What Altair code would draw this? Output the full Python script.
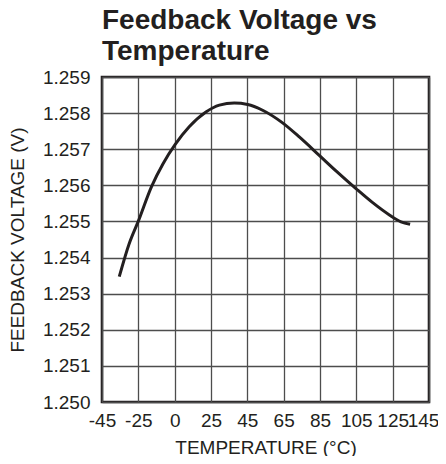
import altair as alt
import pandas as pd

# Curve (temperature in °C, feedback voltage in V)
temps = [-35.5, -30, -25, -16, -8, 0.5, 10, 21.5, 29.6, 37.8, 45.2, 53.4, 64.4,
         73.6, 84.6, 93.8, 104.8, 114, 123.2, 129.6, 134.6]
volts = [1.25347, 1.25439, 1.25501, 1.25596, 1.25660, 1.25714, 1.25762, 1.25803,
         1.25822, 1.25828, 1.25824, 1.25808, 1.25773, 1.25734, 1.25683, 1.25640,
         1.25591, 1.25552, 1.25518, 1.25499, 1.25492]

x_ticks = [-45, -25, 0, 25, 45, 65, 85, 105, 125, 145]
y_ticks = [1.250, 1.251, 1.252, 1.253, 1.254, 1.255, 1.256, 1.257, 1.258, 1.259]

W, H = 327, 325
x_range = [W * i / (len(x_ticks) - 1) for i in range(len(x_ticks))]

df = pd.DataFrame({"t": temps, "v": volts})

FONT = "Liberation Sans"
INK = "#231f20"

chart = alt.Chart(df).mark_line(
    color=INK, strokeWidth=3, interpolate="monotone"
).encode(
    x=alt.X("t:Q",
            scale=alt.Scale(domain=x_ticks, range=x_range, nice=False, zero=False),
            axis=alt.Axis(values=x_ticks, title="TEMPERATURE (°C)", labelOverlap=False,
                          labelExpr="'' + datum.value",
                          labelOffset={"condition": {"test": "datum.value == 145", "value": -6},
                                       "value": 0},
                          labelFlush=False, tickSize=0, labelPadding=9, titlePadding=8,
                          domain=False, grid=True)),
    y=alt.Y("v:Q",
            scale=alt.Scale(domain=[1.250, 1.259], nice=False, zero=False),
            axis=alt.Axis(values=y_ticks, format=".3f", title="FEEDBACK VOLTAGE (V)",
                          tickSize=0, labelPadding=12, titlePadding=15, domain=False,
                          grid=True, labelFlush=False)),
).properties(
    width=W, height=H,
    title=alt.TitleParams(["Feedback Voltage vs", "Temperature"], anchor="start",
                          frame="group", fontSize=28, font=FONT, fontWeight="bold",
                          color=INK, lineHeight=31, offset=2),
    autosize=alt.AutoSizeParams(type="none"),
    padding={"left": 94, "top": 69, "right": 9, "bottom": 54},
).configure_axis(
    labelFont=FONT, titleFont=FONT, labelFontSize=19, titleFontSize=19,
    labelColor=INK, titleColor=INK, titleFontWeight="normal",
    gridColor="#4d4d4d", gridWidth=1.3, gridOpacity=1,
).configure_view(
    stroke=INK, strokeWidth=2.6,
)

chart.save("out.html", embed_options={"renderer": "svg", "actions": False})
